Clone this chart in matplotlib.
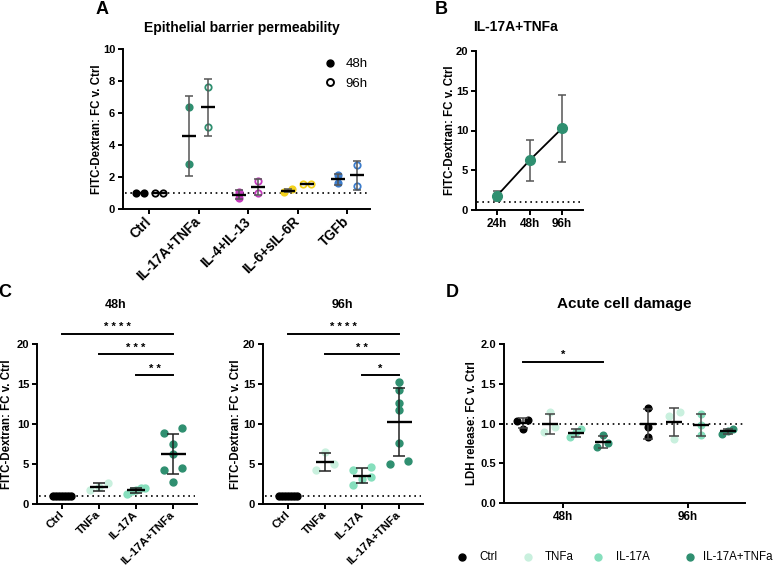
import numpy as np
import matplotlib
matplotlib.use('Agg')
import matplotlib.pyplot as plt
from matplotlib.lines import Line2D

# ---- data ----
a_groups = ['Ctrl', 'IL-17A+TNFa', 'IL-4+IL-13', 'IL-6+sIL-6R', 'TGFb']
a_48h = [[1.0, 1.0], [6.35, 2.8], [0.7, 1.08], [1.08, 1.22], [2.1, 1.6]]
a_96h = [[1.0, 1.0], [7.6, 5.1], [1.72, 1.0], [1.55, 1.55], [2.75, 1.45]]
a_colors = ['#000000', '#2f8f70', '#c43bbd', '#f3d21c', '#3c7ccc']

b_times = ['24h', '48h', '96h']
b_mean = [1.8, 6.24, 10.26]
b_sd = [0.65, 2.53, 4.2]

c_groups = ['Ctrl', 'TNFa', 'IL-17A', 'IL-17A+TNFa']
c_48h = [[1.0] * 7, [2.6, 1.7, 2.1], [2.0, 2.0, 1.2, 1.6, 1.8],
         [9.5, 8.9, 7.5, 6.3, 4.5, 4.2, 2.8]]
c_96h = [[1.0] * 7, [6.5, 5.0, 4.2], [4.3, 4.6, 3.35, 3.1, 2.4],
         [15.2, 14.3, 12.6, 11.7, 7.6, 5.0, 5.4]]
c_sig_48h = [('Ctrl', 'IL-17A+TNFa', '****'), ('TNFa', 'IL-17A+TNFa', '***'),
             ('IL-17A', 'IL-17A+TNFa', '**')]
c_sig_96h = [('Ctrl', 'IL-17A+TNFa', '****'), ('TNFa', 'IL-17A+TNFa', '**'),
             ('IL-17A', 'IL-17A+TNFa', '*')]
c_colors = ['#000000', '#c9f0de', '#86dfbd', '#2f8f70']

d_times = ['48h', '96h']
d_48h = [[1.05, 0.93, 1.03], [1.14, 0.89, 0.96], [0.93, 0.83, 0.89], [0.85, 0.70, 0.75]]
d_96h = [[1.2, 0.95, 0.83], [1.14, 1.10, 0.81], [1.12, 0.98, 0.85], [0.87, 0.93, 0.91]]

# ---- style ----
plt.rcParams['font.family'] = ['Liberation Sans', 'DejaVu Sans']
plt.rcParams['font.weight'] = 'bold'
plt.rcParams['axes.linewidth'] = 1.4

W, H = 777, 569
fig = plt.figure(figsize=(W / 100, H / 100), dpi=100)


def box(x0, y0, x1, y1):
    return [x0 / W, 1 - y1 / H, (x1 - x0) / W, (y1 - y0) / H]


def style(ax, xlim, ylim, yticks):
    ax.set_xlim(*xlim)
    ax.set_ylim(*ylim)
    ax.spines[['top', 'right']].set_visible(False)
    ax.set_yticks(yticks)
    ax.tick_params(direction='out', length=3.6, width=1.4, labelsize=8, pad=2)


def spread(ax, xc, vals, d_px, maxw_px):
    # simple scatter-dot layout: points that overlap get put side by side
    vals = np.asarray(vals, float)
    pts = ax.transData.transform(np.column_stack([np.full(len(vals), xc), vals]))
    ypx = pts[:, 1]
    order = np.argsort(ypx)
    offs = np.zeros(len(vals))
    clusters = [[order[0]]]
    for i in order[1:]:
        if ypx[i] - ypx[clusters[-1][-1]] < d_px:
            clusters[-1].append(i)
        else:
            clusters.append([i])
    for cl in clusters:
        n = len(cl)
        if n > 1:
            step = maxw_px / (n - 1)
            for j, i in enumerate(cl):
                offs[i] = (j - (n - 1) / 2) * step
    back = ax.transData.inverted().transform(np.column_stack([pts[:, 0] + offs, ypx]))
    return back[:, 0]


def summary(ax, x, vals, mean_w, cap, ecolor):
    m = np.mean(vals)
    s = np.std(vals, ddof=1)
    ax.errorbar([x], [m], yerr=[s], fmt='none', ecolor=ecolor, elinewidth=1.1,
                capsize=cap, capthick=1.1, zorder=4)
    ax.plot([x], [m], marker='_', ms=mean_w, mew=1.7, color='k', zorder=5)


def baseline(ax):
    ax.axhline(1, xmin=0.01, xmax=0.99, color='k', lw=1.2, ls=(0, (1, 2.2)), zorder=1)


def bold_ticks(ax):
    for lb in ax.get_xticklabels() + ax.get_yticklabels():
        lb.set_fontweight('bold')


def slanted(ax, labels, size, pad):
    ax.set_xticks(range(len(labels)))
    ax.set_xticklabels(labels, rotation=45, ha='right', va='center',
                       rotation_mode='anchor', fontsize=size)
    ax.tick_params(axis='x', pad=pad)


# ---- panel A ----
axA = fig.add_axes(box(123, 49, 370, 209))
style(axA, (-0.53, 4.46), (0, 10), np.arange(0, 11, 2))
baseline(axA)
for i, g in enumerate(a_groups):
    c = a_colors[i]
    for vals, dx, filled in [(a_48h[i], -0.19, True), (a_96h[i], 0.19, False)]:
        xs = spread(axA, i + dx, vals, 6, 8)
        axA.plot(xs, vals, 'o', ms=4.6, mec=c, mew=1.3,
                 mfc=c if filled else 'white', ls='', zorder=3)
        summary(axA, i + dx, vals, 9.5, 2.6, '#555555')
slanted(axA, a_groups, 9.8, 4)
h48 = Line2D([], [], marker='o', color='k', ls='', ms=5)
h96 = Line2D([], [], marker='o', color='k', mfc='white', mew=1.4, ls='', ms=5)
axA.legend([h48, h96], ['48h', '96h'], loc='upper left', frameon=False,
           bbox_to_anchor=(322 / W, 1 - 58 / H), bbox_transform=fig.transFigure,
           prop={'weight': 'normal', 'size': 9.5}, handlelength=1.2,
           handletextpad=0.6, labelspacing=0.55, borderpad=0, borderaxespad=0)

# ---- panel B ----
axB = fig.add_axes(box(476, 51, 583, 210))
style(axB, (-0.65, 2.65), (0, 20), np.arange(0, 21, 5))
baseline(axB)
xb = np.arange(len(b_times))
axB.errorbar(xb, b_mean, yerr=b_sd, fmt='none', ecolor='#555555', elinewidth=1.1,
             capsize=3, capthick=1.1, zorder=2)
axB.plot(xb, b_mean, color='k', lw=1.3, zorder=3)
axB.plot(xb, b_mean, 'o', ms=7, color='#2f8f70', zorder=4)
axB.set_xticks(xb)
axB.set_xticklabels(b_times, fontsize=8.5)

# ---- panel C ----
for (x0, x1), data, sig in [((37, 197), c_48h, c_sig_48h), ((263, 423), c_96h, c_sig_96h)]:
    ax = fig.add_axes(box(x0, 344, x1, 504))
    style(ax, (-0.68, 3.65), (0, 20), np.arange(0, 21, 5))
    baseline(ax)
    for i, vals in enumerate(data):
        xs = spread(ax, i, vals, 6.7, 18)
        ax.plot(xs, vals, 'o', ms=5, color=c_colors[i], ls='', zorder=3)
        mw = 18 if i == 3 else 13
        summary(ax, i, vals, mw, 4.3, '#222222')
    slanted(ax, c_groups, 8.2, 3)
    for (ga, gb, txt), y in zip(sig, [21.3, 18.7, 16.1]):
        xa, xb2 = c_groups.index(ga), c_groups.index(gb)
        ax.plot([xa, xb2], [y, y], color='k', lw=1.4, clip_on=False)
        ax.annotate(' '.join(txt), xy=((xa + xb2) / 2, y), xytext=(0, 4.8),
                    textcoords='offset points', ha='center', va='center',
                    fontsize=8, annotation_clip=False)
    bold_ticks(ax)

# ---- panel D ----
axD = fig.add_axes(box(504, 344, 745, 503))
style(axD, (-0.47, 1.46), (0, 2.0), np.arange(0, 2.01, 0.5))
axD.yaxis.set_major_formatter(matplotlib.ticker.FormatStrFormatter('%.1f'))
baseline(axD)
d_offs = [-0.32, -0.105, 0.105, 0.32]
for t, data in enumerate([d_48h, d_96h]):
    for i, vals in enumerate(data):
        xc = t + d_offs[i]
        xs = spread(axD, xc, vals, 6.5, 11)
        axD.plot(xs, vals, 'o', ms=4.8, color=c_colors[i], ls='', zorder=3)
        summary(axD, xc, vals, 11.5, 3.6, '#444444')
axD.set_xticks(range(len(d_times)))
axD.set_xticklabels(d_times, fontsize=8.5)
axD.plot([d_offs[0], d_offs[3]], [1.775, 1.775], color='k', lw=1.4)
axD.annotate('*', xy=((d_offs[0] + d_offs[3]) / 2, 1.775), xytext=(0, 4.8),
             textcoords='offset points', ha='center', va='center', fontsize=8)
# legend entries placed one by one, like the original layout
for (mx, tx), c, lab in zip([(462, 479), (528, 545), (598, 616), (690, 703)],
                            c_colors, c_groups):
    fig.add_artist(Line2D([mx / W], [1 - 557 / H], transform=fig.transFigure,
                          marker='o', color=c, ls='', ms=5))
    fig.text(tx / W, 1 - 557 / H, lab, ha='left', va='center', fontsize=8.3,
             fontweight='normal')

for ax in [axA, axB, axD]:
    bold_ticks(ax)

# ---- texts ----
ylab = 'FITC-Dextran: FC v. Ctrl'
for x, y, s in [(97, 129, ylab), (450, 130, ylab), (7, 424, ylab), (236, 424, ylab),
                (472, 423, 'LDH release: FC v. Ctrl')]:
    fig.text(x / W, 1 - y / H, s, rotation=90, ha='center', va='center', fontsize=8.3)
for x, y, s in [(102, 10, 'A'), (441, 10, 'B'), (5, 293, 'C'), (452, 293, 'D')]:
    fig.text(x / W, 1 - y / H, s, ha='center', va='center', fontsize=13)
for x, y, s, fs in [(242, 28, 'Epithelial barrier permeability', 10),
                    (516, 27, 'IL-17A+TNFa', 10), (116, 305, '48h', 9),
                    (342, 305, '96h', 9), (624, 304, 'Acute cell damage', 11)]:
    fig.text(x / W, 1 - y / H, s, ha='center', va='center', fontsize=fs)

fig.savefig('out.png', dpi=100)
